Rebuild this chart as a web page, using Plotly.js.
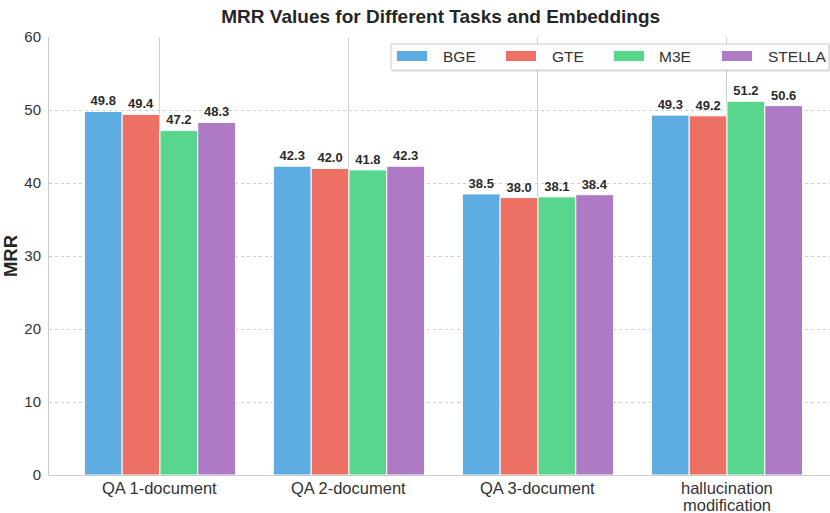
<!DOCTYPE html>
<html><head><meta charset="utf-8">
<script src="https://cdn.plot.ly/plotly-3.0.1.min.js"></script>
<style>html,body{margin:0;padding:0;background:#fff}#chart{width:830px;height:513px}</style>
</head><body><div id="chart"></div>
<script>
const categories = ["QA 1-document", "QA 2-document", "QA 3-document", "hallucination<br>modification"];
const seriesNames = ["BGE", "GTE", "M3E", "STELLA"];
const bge = [49.8, 42.3, 38.5, 49.3];
const gte = [49.4, 42.0, 38.0, 49.2];
const m3e = [47.2, 41.8, 38.1, 51.2];
const stella = [48.3, 42.3, 38.4, 50.6];
const colors = ["#5DADE2", "#EC7063", "#58D68D", "#AF7AC5"];
const allSeries = [bge, gte, m3e, stella];

const FONT = "Liberation Sans, Arial, sans-serif";
const traces = allSeries.map((vals, i) => ({
  type: "bar",
  name: seriesNames[i],
  x: categories,
  y: vals,
  marker: {color: colors[i], line: {color: "#ffffff", width: 1}},
  texttemplate: "%{y:.1f}",
  textposition: "outside",
  textfont: {family: FONT, size: 13, color: "#2b2b2b", weight: "bold"},
  cliponaxis: false,
  hoverinfo: "skip",
  showlegend: false
}));

// Plot area in pixels (for the hand-drawn legend box)
const W = 830, H = 513, ML = 49, MR = 0, MT = 37, MB = 38;
const PW = W - ML - MR, PH = H - MT - MB;
const px = v => (v - ML) / PW;
const py = v => (H - MB - v) / PH;

const shapes = [];
const annotations = [];

// Category tick labels (drawn as annotations so that the two-line label keeps a tight line spacing)
categories.forEach(c => {
  c.split("<br>").forEach((line, j) => {
    annotations.push({xref: "x", yref: "paper", x: c, y: 0, yanchor: "top", xanchor: "center",
      yshift: -2 - j * 17, showarrow: false, text: line,
      font: {family: FONT, size: 16.5, color: "#333333"}});
  });
});

// Legend layout (pixel positions)
const legBox = {x0: 391, x1: 829, y0: 44, y1: 70};
const legSwatchX = [397, 506, 614, 722];
const legTextX = [441, 550, 657, 766];
shapes.push({type: "rect", xref: "paper", yref: "paper", layer: "above",
  x0: px(legBox.x0 + 1), x1: px(legBox.x1 + 1), y0: py(legBox.y1 + 2), y1: py(legBox.y0 + 2),
  fillcolor: "rgba(0,0,0,0.08)", line: {width: 0}});
shapes.push({type: "rect", xref: "paper", yref: "paper", layer: "above",
  x0: px(legBox.x0), x1: px(legBox.x1), y0: py(legBox.y1), y1: py(legBox.y0),
  fillcolor: "rgba(255,255,255,0.95)", line: {color: "#cccccc", width: 1}});
seriesNames.forEach((n, i) => {
  shapes.push({type: "rect", xref: "paper", yref: "paper", layer: "above",
    x0: px(legSwatchX[i]), x1: px(legSwatchX[i] + 30), y0: py(61), y1: py(51),
    fillcolor: colors[i], line: {width: 0}});
  annotations.push({xref: "paper", yref: "paper", x: px(legTextX[i]), y: py(56.5),
    xanchor: "left", yanchor: "middle", showarrow: false, text: n,
    font: {family: FONT, size: 15.5, color: "#333333"}});
});

const layout = {
  width: W, height: H,
  margin: {l: ML, r: MR, t: MT, b: MB},
  paper_bgcolor: "#ffffff", plot_bgcolor: "#ffffff",
  font: {family: FONT, size: 15, color: "#333333"},
  title: {text: "<b>MRR Values for Different Tasks and Embeddings</b>", x: 0.531, xanchor: "center", y: 0.968, yanchor: "middle",
          font: {size: 19, color: "#262626"}},
  barmode: "group", bargap: 0.2, bargroupgap: 0,
  xaxis: {type: "category", range: [-0.587, 3.545], showgrid: true, gridcolor: "#d0d0d0", gridwidth: 1,
          showline: true, linecolor: "#cccccc", linewidth: 1, ticks: "", showticklabels: false, zeroline: false},
  yaxis: {range: [0, 60], dtick: 10, showgrid: true, gridcolor: "#cfcfcf", griddash: "dot", gridwidth: 1,
          showline: true, linecolor: "#cccccc", linewidth: 1, ticks: "", ticklabelstandoff: 4, zeroline: false,
          tickfont: {size: 15, color: "#333"},
          title: {text: "<b>MRR</b>", font: {size: 18.5, color: "#262626"}, standoff: 6}},
  shapes: shapes,
  annotations: annotations,
  showlegend: false
};
Plotly.newPlot("chart", traces, layout, {displayModeBar: false, staticPlot: true});
</script></body></html>
